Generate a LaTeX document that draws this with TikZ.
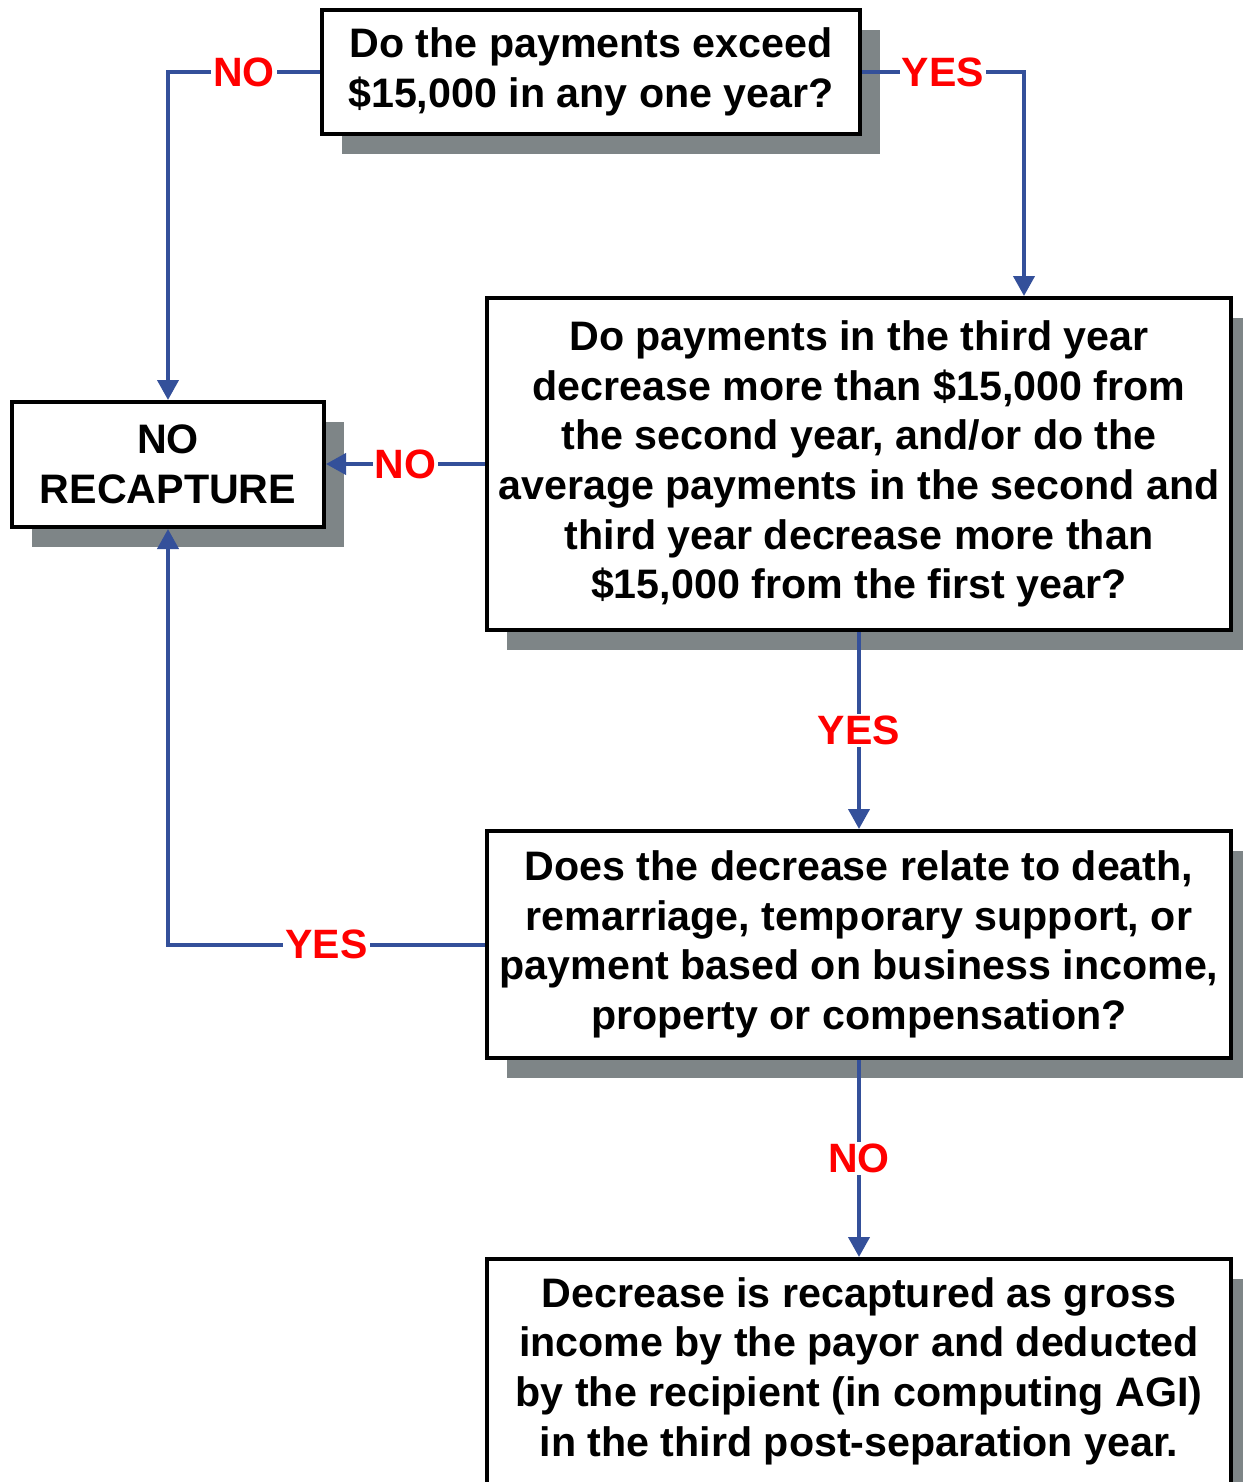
\documentclass[tikz,border=0pt]{standalone}
\usepackage{fontspec}
\setmainfont{Liberation Sans}
\usepackage{tikz}
\usetikzlibrary{positioning,shadows,arrows.meta}
\definecolor{linkblue}{HTML}{34509A}
\definecolor{shadowgray}{HTML}{7E8587}
\definecolor{labelred}{HTML}{FF0000}

\begin{document}
\begin{tikzpicture} [x=0.5pt, y=-0.5pt, node distance={98.5pt},
    box/.style = {draw=black, line width=2pt, fill=white, align=center, inner sep=0pt,
      font=\fontsize{20.6}{24.8}\selectfont\bfseries,
      drop shadow={shadow xshift=10pt, shadow yshift=-10pt, fill=shadowgray, opacity=1}},
    link/.style = {draw=linkblue, line width=2pt},
    arr/.style = {link, -{Triangle[width=10.5pt,length=10pt]}},
    lbl/.style = {fill=white, text=labelred, inner sep=1pt, font=\fontsize{20.5}{24}\selectfont\bfseries}]
    \useasboundingbox (0,0) rectangle (1242,1482);

    \node[box, minimum width=269pt, minimum height=62pt] (q1) at (591,72) {Do the payments exceed\\\$15,000 in any one year?};
    \node[box, minimum width=156pt, minimum height=62.5pt] (nr) at (168,464.5) {NO\\RECAPTURE};
    \node[box, minimum width=372pt, minimum height=166pt] (q2) at (859,464) {Do payments in the third year\\decrease more than \$15,000 from\\the second year, and/or do the\\average payments in the second and\\third year decrease more than\\\$15,000 from the first year?};
    \node[box, minimum width=372pt, minimum height=113.5pt, below=of q2] (q3) {Does the decrease relate to death,\\remarriage, temporary support, or\\payment based on business income,\\property or compensation?};
    \node[box, minimum width=372pt, minimum height=120pt, text depth=12.3pt, below=of q3] (res) {Decrease is recaptured as gross\\income by the payor and deducted\\by the recipient (in computing AGI)\\in the third post-separation year.};

    \draw[arr] (q1.west) -| node[lbl, pos=0.25] {NO} (nr.north);
    \draw[arr] (q1.east) -| node[lbl, pos=0.25] {YES} ([xshift=82.5pt]q2.north);
    \draw[arr] (q2.west) -- node[lbl] {NO} (q2.west -| nr.east);
    \draw[arr] (q2.south) -- node[lbl] {YES} (q3.north);
    \draw[arr] (q3.west) -| node[lbl, pos=0.25] {YES} (nr.south);
    \draw[arr] (q3.south) -- node[lbl] {NO} (res.north);

  \end{tikzpicture}
\end{document}
